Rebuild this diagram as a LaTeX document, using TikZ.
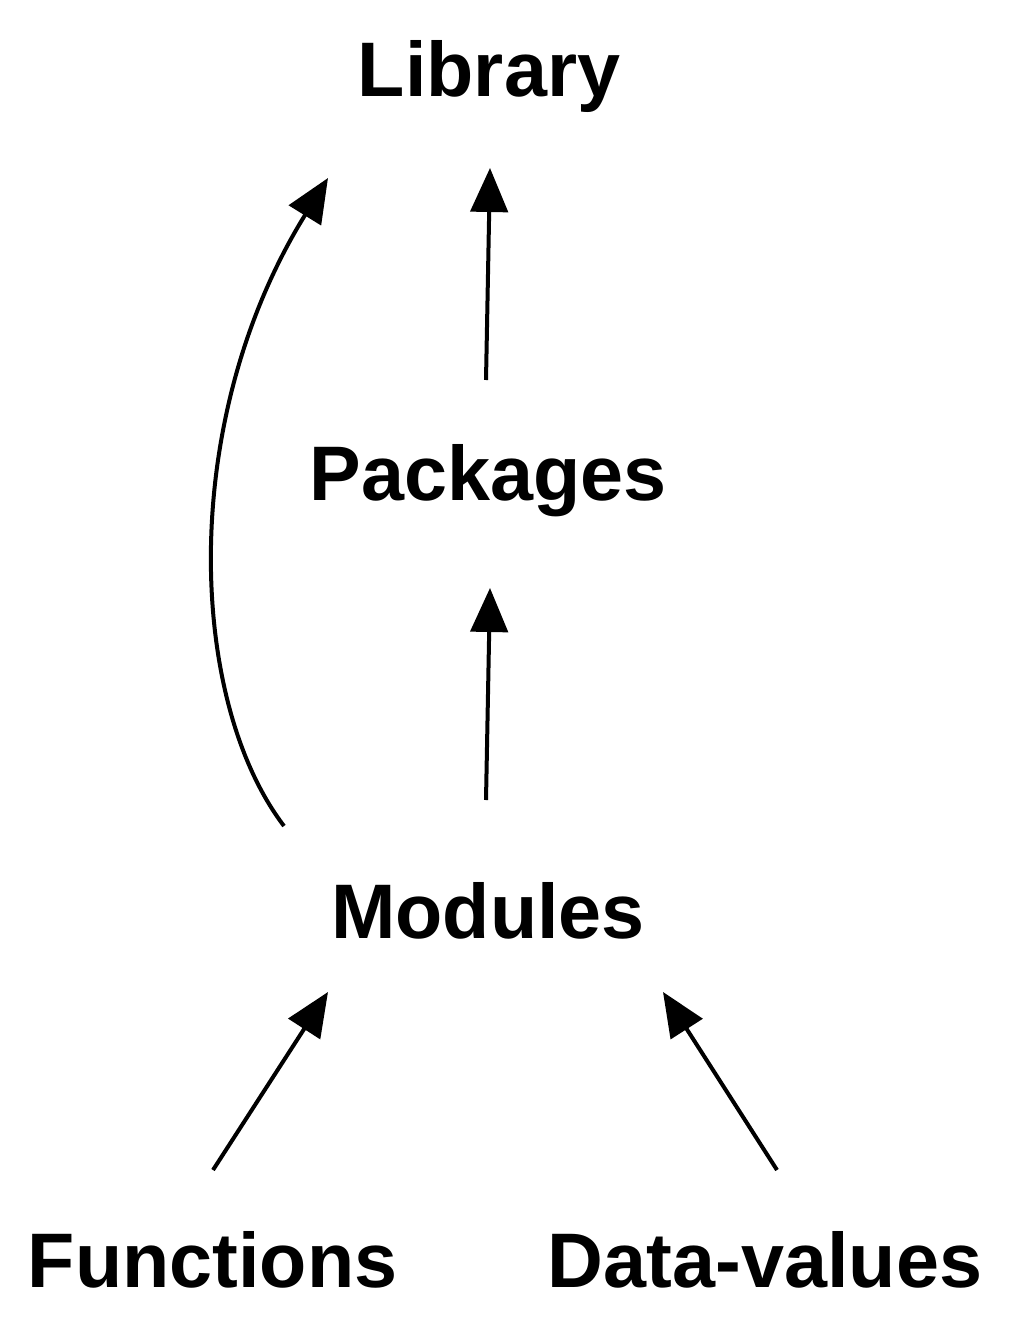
\documentclass[tikz,border=0pt]{standalone}
\usepackage{fontspec}
\setmainfont{Liberation Sans}
\usetikzlibrary{arrows.meta}
\begin{document}
\begin{tikzpicture}[x=0.75pt,y=-0.75pt,
  lbl/.style={font=\bfseries\fontsize{58}{68}\selectfont, inner sep=0pt, anchor=base},
  arr/.style={line width=3pt, -{Triangle[length=33pt,width=28pt]}}]
\useasboundingbox (0,0) rectangle (1011,1331);
\node[lbl] (lib) at (489,97) {Library};
\node[lbl] (pkg) at (488,500) {Packages};
\node[lbl] (mod) at (488,938) {Modules};
\node[lbl] (fun) at (212.5,1287) {Functions};
\node[lbl] (dat) at (765,1287) {Data-values};
\coordinate (a1s) at (486,380); \coordinate (a1e) at (490,168);
\coordinate (a2s) at (486,800); \coordinate (a2e) at (490,588);
\coordinate (cs) at (284,826); \coordinate (ce) at (328,178);
\coordinate (fs) at (213,1170); \coordinate (fe) at (328,992);
\coordinate (ds) at (777,1170); \coordinate (de) at (663,992);
\draw[arr] (a1s) -- (a1e);
\draw[arr] (a2s) -- (a2e);
\draw[arr] (cs) .. controls (188,700) and (178,420) .. (ce);
\draw[arr] (fs) -- (fe);
\draw[arr] (ds) -- (de);
\end{tikzpicture}
\end{document}
